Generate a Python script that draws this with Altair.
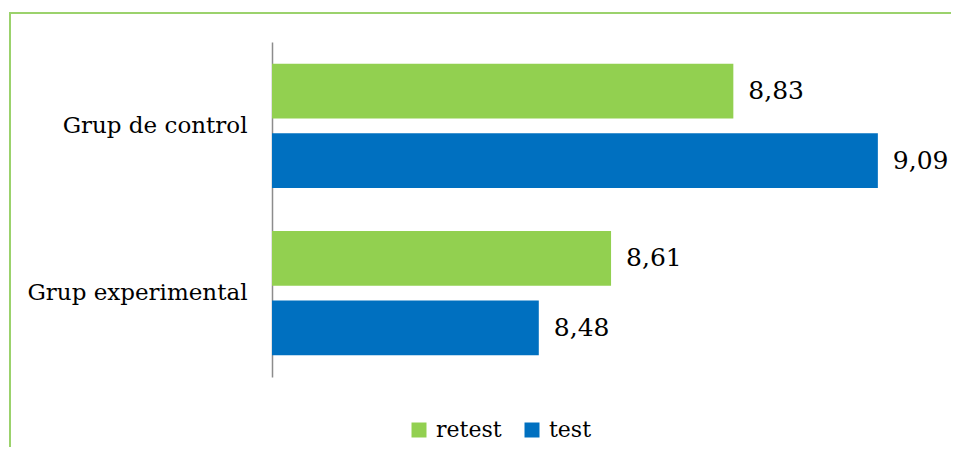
import altair as alt
import pandas as pd

groups = ["Grup de control", "Grup de control", "Grup experimental", "Grup experimental"]
series = ["retest", "test", "retest", "test"]
values = [8.83, 9.09, 8.61, 8.48]
group_order = ["Grup de control", "Grup experimental"]
series_order = ["retest", "test"]
colors = ["#92D050", "#0070C0"]

df = pd.DataFrame({"group": groups, "series": series, "value": values})
df["label"] = [f"{v:.2f}".replace(".", ",") for v in values]

FONT = "DejaVu Serif"

y_enc = alt.Y("group:N", sort=group_order, title=None,
              scale=alt.Scale(paddingInner=0.257, paddingOuter=0.13),
              axis=alt.Axis(labelFont=FONT, labelFontSize=23, labelColor="black",
                            labelPadding=25, ticks=False, domainColor="#8c8c8c",
                            domainWidth=1.5, labelLimit=400))
yoff_enc = alt.YOffset("series:N", sort=series_order,
                       scale=alt.Scale(paddingInner=0.21, paddingOuter=0))
x_scale = alt.Scale(domain=[8, 9.2], zero=False, nice=False)

bars = alt.Chart(df).mark_bar().encode(
    y=y_enc,
    yOffset=yoff_enc,
    x=alt.X("value:Q", scale=x_scale, axis=None),
    x2=alt.datum(8),
    color=alt.Color("series:N", sort=series_order,
                    scale=alt.Scale(domain=series_order, range=colors),
                    legend=alt.Legend(title=None, orient="none", direction="horizontal",
                                      legendX=136, legendY=377, padding=0,
                                      symbolType="square", symbolSize=225,
                                      symbolStrokeWidth=0, labelFont=FONT,
                                      labelFontSize=22, labelColor="black",
                                      labelOffset=6, columnPadding=19)),
)

texts = alt.Chart(df).mark_text(align="left", baseline="middle", dx=15,
                                font=FONT, fontSize=25, color="black").encode(
    y=alt.Y("group:N", sort=group_order),
    yOffset=alt.YOffset("series:N", sort=series_order),
    x=alt.X("value:Q", scale=x_scale),
    text="label:N",
)

frame_top = alt.Chart(df).mark_rule(color="#9bd26c", strokeWidth=2).encode(
    x=alt.value(-263), x2=alt.value(700), y=alt.value(-29))
frame_left = alt.Chart(df).mark_rule(color="#9bd26c", strokeWidth=2).encode(
    x=alt.value(-262), y=alt.value(-29), y2=alt.value(420))

chart = alt.layer(frame_top, frame_left, bars, texts).properties(
    width=667, height=335,
    padding={"left": 264, "top": 34, "right": 12, "bottom": 70},
    autosize=alt.AutoSizeParams(type="none"),
    background="white",
).configure_view(stroke=None)

chart.save("out.html", embed_options={"renderer": "svg", "actions": False})
